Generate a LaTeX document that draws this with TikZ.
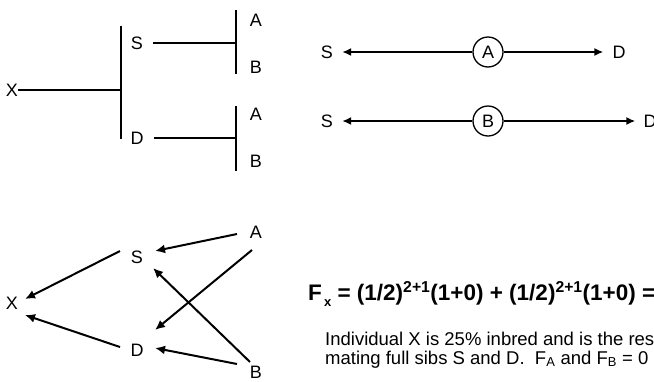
\documentclass[tikz,border=0pt]{standalone}
\usepackage{fontspec}
\setmainfont{Liberation Sans}
\usetikzlibrary{arrows.meta}
\begin{document}
\begin{tikzpicture}[x=1pt,y=-1pt,
  lbl/.style={inner sep=0pt,font=\fontsize{18}{18}\selectfont},
  ln/.style={line width=1.6pt},
  arr/.style={line width=1.6pt,-{Latex[length=9pt,width=8pt]}},
  arrb/.style={line width=2pt,-{Latex[length=10pt,width=9pt]}},
  circ/.style={circle,draw,line width=1.3pt,minimum size=30pt,inner sep=0pt,font=\fontsize{18}{18}\selectfont}]
\useasboundingbox (0,0) rectangle (654,381);
\clip (0,0) rectangle (654,381);
% ---- top-left tree
\node[lbl] (X1) at (12,90) {X};
\coordinate (j1) at (121,90);
\coordinate (v1t) at (121,26);
\coordinate (v1b) at (121,139);
\node[lbl] (S1) at (137,43) {S};
\node[lbl] (D1) at (137,138) {D};
\coordinate (s1j) at (236,43);
\coordinate (b1t) at (236,10);
\coordinate (b1b) at (236,74);
\node[lbl] (A1) at (256,20) {A};
\node[lbl] (B1) at (256,67) {B};
\coordinate (d1j) at (236,138);
\coordinate (b2t) at (236,106);
\coordinate (b2b) at (236,171);
\node[lbl] (A2) at (256,114) {A};
\node[lbl] (B2) at (256,161) {B};
\draw[ln] (X1.east) -- (j1);
\draw[ln] (v1t) -- (v1b);
\draw[ln] ([xshift=10pt]S1.east) -- (s1j);
\draw[ln] (b1t) -- (b1b);
\draw[ln] ([xshift=10pt]D1.east) -- (d1j);
\draw[ln] (b2t) -- (b2b);
% ---- top-right paths
\node[lbl] (S3) at (327,52) {S};
\node[circ] (A3) at (488,52) {A};
\node[lbl] (D3) at (619,52) {D};
\draw[arr,shorten >=9pt] (A3) -- (S3);
\draw[arr,shorten >=9pt] (A3) -- (D3);
\node[lbl] (S4) at (327,121) {S};
\node[circ] (B4) at (488,121) {B};
\node[lbl] (D4) at (650,121) {D};
\draw[arr,shorten >=9pt] (B4) -- (S4);
\draw[arr,shorten >=8pt] (B4) -- (D4);
% ---- bottom-left path diagram
\node[lbl] (X5) at (12,303) {X};
\node[lbl] (S5) at (137,257) {S};
\node[lbl] (D5) at (137,350) {D};
\node[lbl] (A5) at (256,232) {A};
\node[lbl] (B5) at (256,372) {B};
\draw[arrb] ([shift={(-17,-6)}]S5.center) -- ([shift={(13,-4)}]X5.center);
\draw[arrb] ([shift={(-17,-3)}]D5.center) -- ([shift={(13,12)}]X5.center);
\draw[arrb] ([shift={(-19,2)}]A5.center) -- ([shift={(18,-6)}]S5.center);
\draw[arrb] ([shift={(-4,18)}]A5.center) -- ([shift={(18,-20)}]D5.center);
\draw[arrb] ([shift={(-6,-10)}]B5.center) -- ([shift={(16,11)}]S5.center);
\draw[arrb] ([shift={(-19,-8)}]B5.center) -- ([shift={(18,-2)}]D5.center);
% ---- formula and text
\node[anchor=base west,inner sep=0pt,font=\fontsize{22.5}{22.5}\selectfont\bfseries] (fx) at (308,300)
  {F\raisebox{-6pt}{\fontsize{13}{13}\selectfont\,x} = (1/2)\textsuperscript{2+1}(1+0) + (1/2)\textsuperscript{2+1}(1+0) =};
\node[anchor=base west,inner sep=0pt,font=\fontsize{18.5}{18.5}\selectfont] (t1) at (325,345)
  {Individual X is 25\% inbred and is the res};
\node[anchor=base west,inner sep=0pt,font=\fontsize{18.5}{18.5}\selectfont] (t2) at (325,364)
  {mating full sibs S and D.\ \ F\textsubscript{A} and F\textsubscript{B} = 0};
\end{tikzpicture}
\end{document}
